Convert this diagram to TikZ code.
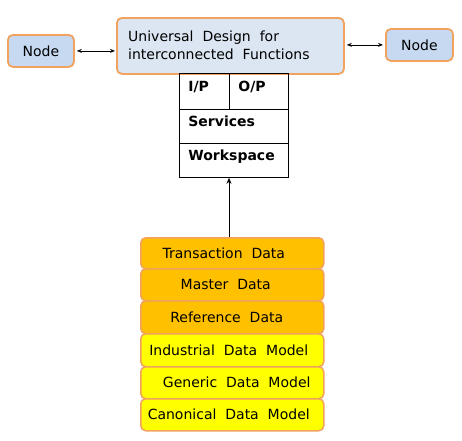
\documentclass[tikz,border=0pt]{standalone}
\usepackage{fontspec}
\setmainfont{DejaVu Sans}
\usetikzlibrary{arrows.meta}
\definecolor{bord}{RGB}{242,162,95}
\definecolor{bluef}{RGB}{198,217,240}
\definecolor{bluel}{RGB}{220,230,242}
\definecolor{orf}{RGB}{255,192,0}
\definecolor{yelf}{RGB}{255,255,0}
\begin{document}
\begin{tikzpicture}[x=1pt,y=-1pt,
 rbox/.style={draw=bord,line width=1.8pt,rounded corners=5pt,inner sep=0pt,anchor=north west,font=\fontsize{14}{16}\selectfont},
 cell/.style={draw=black,line width=0.8pt,inner ysep=0pt,inner xsep=9pt,anchor=north west,align=left,text height=10.5pt,text depth=10.5pt,font=\fontsize{14}{16}\selectfont\bfseries},
 arr/.style={{Stealth[length=5pt,width=4pt]}-{Stealth[length=5pt,width=4pt]},line width=0.8pt},
 arrone/.style={-{Stealth[length=6pt,width=5pt]},line width=0.8pt}
]
\useasboundingbox[fill=white] (0,0) rectangle (462,440);
% top row
\node[rbox,fill=bluef,minimum width=66pt,minimum height=32pt] (nl) at (7,34) {Node};
\node[rbox,fill=bluel,minimum width=227pt,minimum height=56pt] (main) at (116,17) {};
\node[anchor=west,align=left,inner sep=0pt,font=\fontsize{14}{18}\selectfont] (maintext) at (128,45) {Universal~ Design~ for\\interconnected~ Functions};
\node[rbox,fill=bluef,minimum width=67pt,minimum height=32pt] (nr) at (385,28) {Node};
\draw[arr,shorten <=2pt,shorten >=1pt] (nl.east) -- (nl.east -| main.west);
\draw[arr,shorten <=2pt,shorten >=2pt] (nr.west -| main.east) -- (nr.west);
% table
\node[cell,minimum width=50pt,minimum height=36pt,text width=32pt] (ip) at (179,73) {I/P};
\node[cell,minimum width=59pt,minimum height=36pt,text width=41pt] (op) at (229,73) {O/P};
\node[cell,minimum width=109pt,minimum height=34pt,text width=91pt] (sv) at (179,109) {Services};
\node[cell,minimum width=109pt,minimum height=34pt,text width=91pt] (ws) at (179,143) {Workspace};
% stack
\node[rbox,line width=1.5pt,fill=orf,minimum width=183pt,minimum height=31pt] (td) at (140,237) {Transaction~ Data\hspace*{17pt}};
\node[rbox,line width=1.5pt,fill=orf,minimum width=183pt,minimum height=32pt] (md) at (140,268) {Master~ Data\hspace*{13pt}};
\node[rbox,line width=1.5pt,fill=orf,minimum width=183pt,minimum height=33pt] (rd) at (140,300) {Reference~ Data\hspace*{11pt}};
\node[rbox,line width=1.5pt,fill=yelf,minimum width=183pt,minimum height=33pt] (idm) at (140,333) {Industrial~ Data~ Model\hspace*{7pt}};
\node[rbox,line width=1.5pt,fill=yelf,minimum width=183pt,minimum height=32pt] (gdm) at (140,366) {\hspace*{9pt}Generic~ Data~ Model};
\node[rbox,line width=1.5pt,fill=yelf,minimum width=183pt,minimum height=32pt] (cdm) at (140,398) {Canonical~ Data~ Model\hspace*{7pt}};
\draw[arrone] (td.north -| op.west) -- (ws.south -| op.west);
\end{tikzpicture}
\end{document}
